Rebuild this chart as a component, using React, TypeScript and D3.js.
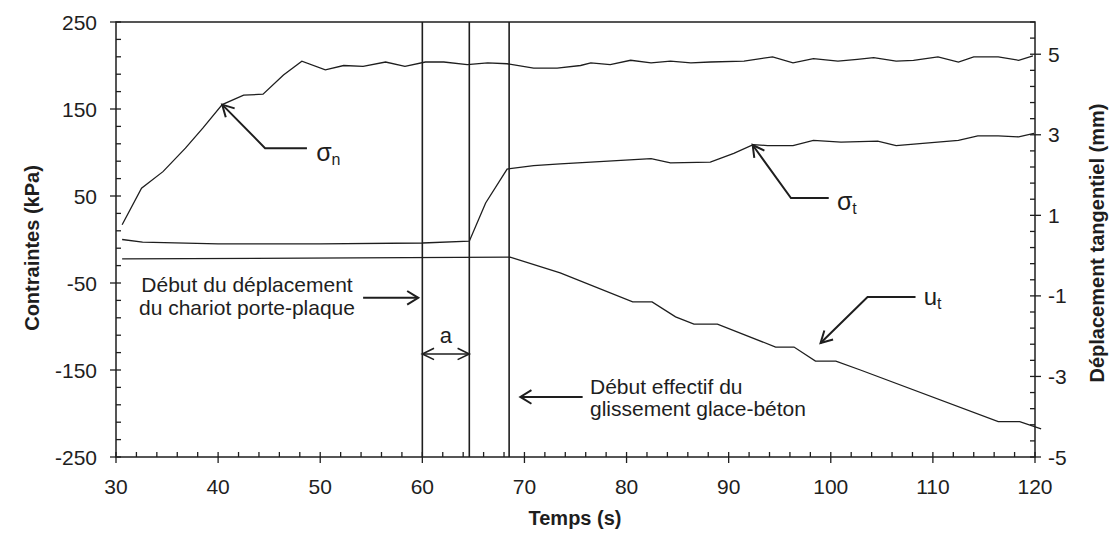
import React from 'react';
import * as d3 from 'd3';

// time (s) / normal stress (kPa)
const SN_TIME = [30.6, 32.5, 34.6, 36.8, 38.5, 40.4, 42.5, 44.4, 46.4, 48.2, 50.5, 52.3, 54.2, 56.4, 58.3, 60.3, 62.1, 64.4, 66.4, 68.3, 70.9, 73.2, 75.5, 76.5, 78.4, 80.4, 82.4, 84.3, 86.3, 88.2, 91.5, 94.3, 96.3, 98.3, 100.7, 102.6, 104.2, 106.4, 108.1, 110.5, 112.5, 114.0, 116.4, 118.4, 119.8];
const SIGMA_N = [17, 59, 78, 105, 128, 155, 166, 167, 189, 205, 195, 200, 199, 204, 199, 204, 204, 201, 203, 202, 197, 197, 200, 203, 201, 206, 203, 205, 203, 204, 205, 210, 203, 208, 205, 207, 209, 205, 206, 210, 204, 210, 210, 206, 211];

// time (s) / tangential stress (kPa)
const ST_TIME = [30.6, 32.6, 40, 50, 60, 64.6, 66.2, 68.3, 70.9, 73.5, 76.5, 82.4, 84.3, 88.2, 90.5, 92.4, 93.8, 96.3, 98.3, 101.0, 104.6, 106.4, 112.5, 114.4, 116.4, 118.4, 119.9];
const SIGMA_T = [0, -3, -5, -5, -4, -2, 42, 81, 85, 87, 89, 93, 88, 89, 99, 109, 108, 108, 114, 112, 113, 108, 114, 119, 119, 118, 122];

// time (s) / tangential displacement (mm)
const UT_TIME = [30.6, 68.6, 73.5, 80.6, 82.5, 84.8, 86.6, 88.9, 94.6, 96.4, 98.5, 100.5, 102.9, 116.4, 118.5, 120.6];
const U_T = [-0.08, -0.04, -0.43, -1.15, -1.15, -1.52, -1.7, -1.7, -2.27, -2.27, -2.62, -2.62, -2.84, -4.12, -4.12, -4.3];

const X_TICKS = [30, 40, 50, 60, 70, 80, 90, 100, 110, 120];
const LEFT_TICKS = [250, 150, 50, -50, -150, -250];
const RIGHT_TICKS = [5, 3, 1, -1, -3, -5];
const MARKERS = [60, 64.6, 68.5];

const W = 1109;
const H = 533;
const M = { left: 116, right: 1035, top: 22, bottom: 457 };
const FONT = "'Liberation Sans', Arial, Helvetica, sans-serif";
const INK = '#1e1e1e';

const x = d3.scaleLinear().domain([30, 120]).range([M.left, M.right]);
const yL = d3.scaleLinear().domain([-250, 250]).range([M.bottom, M.top]);
const yR = d3.scaleLinear().domain([-5, 5.8]).range([M.bottom, M.top]);

function head(tx: number, ty: number, fx: number, fy: number, len = 13, spread = 0.5) {
  const a = Math.atan2(ty - fy, tx - fx);
  const p1 = [tx - len * Math.cos(a - spread), ty - len * Math.sin(a - spread)];
  const p2 = [tx - len * Math.cos(a + spread), ty - len * Math.sin(a + spread)];
  return `M${p1[0]},${p1[1]}L${tx},${ty}L${p2[0]},${p2[1]}`;
}

export default function App() {
  const lineL = d3.line<[number, number]>().x((d) => x(d[0])).y((d) => yL(d[1]));
  const lineR = d3.line<[number, number]>().x((d) => x(d[0])).y((d) => yR(d[1]));

  const sn = lineL(d3.zip(SN_TIME, SIGMA_N) as [number, number][]) ?? '';
  const st = lineL(d3.zip(ST_TIME, SIGMA_T) as [number, number][]) ?? '';
  const ut = lineR(d3.zip(UT_TIME, U_T) as [number, number][]) ?? '';

  const xMinor = d3.range(0, 46).map((i) => 30 + i * 2);
  const lMinor = d3.range(0, 26).map((i) => -250 + i * 20);
  const rMinor = d3.range(0, 28).map((i) => -5 + i * 0.4);

  // leader lines (data coordinates)
  const snLead = [[x(40.4), yL(155)], [x(44.6), yL(105)], [x(48.7), yL(105)]];
  const stLead = [[x(92.35), yL(108.6)], [x(96.1), yL(47.7)], [x(99.8), yL(47.7)]];
  const utLead = [[x(99.0), yR(-2.17)], [x(103.6), yR(-1.03)], [x(108.3), yR(-1.03)]];
  const pl = (p: number[][]) => 'M' + p.map((q) => q.join(',')).join('L');

  const chY = yL(-67);
  const aY = yL(-131.6);
  const efY = yL(-181);

  return (
    <svg width={W} height={H} style={{ position: 'absolute', left: 0, top: 0, background: '#fff' }} fontFamily={FONT}>
      {/* frame */}
      <rect x={M.left} y={M.top} width={M.right - M.left} height={M.bottom - M.top} fill="none" stroke={INK} strokeWidth={1.5} />

      {/* x ticks */}
      {xMinor.map((t) => {
        const major = t % 10 === 0;
        return <line key={'x' + t} x1={x(t)} x2={x(t)} y1={M.bottom - 5} y2={M.bottom + (major ? 6 : 0)} stroke={INK} strokeWidth={1.3} />;
      })}
      {X_TICKS.map((t) => (
        <text key={'xl' + t} x={x(t)} y={486} fontSize={21} textAnchor="middle" dominantBaseline="central" fill={INK}>{t}</text>
      ))}

      {/* left ticks */}
      {lMinor.map((v) => {
        const major = (v + 250) % 100 === 0;
        return <line key={'l' + v} x1={M.left - (major ? 6 : 0)} x2={M.left + 5} y1={yL(v)} y2={yL(v)} stroke={INK} strokeWidth={1.3} />;
      })}
      {LEFT_TICKS.map((v) => (
        <text key={'ll' + v} x={97} y={yL(v)} fontSize={21} textAnchor="end" dominantBaseline="central" fill={INK}>{v}</text>
      ))}

      {/* right ticks */}
      {rMinor.map((v, i) => {
        const major = i % 5 === 0;
        return <line key={'r' + i} x1={M.right - 5} x2={M.right + (major ? 6 : 0)} y1={yR(v)} y2={yR(v)} stroke={INK} strokeWidth={1.3} />;
      })}
      {RIGHT_TICKS.map((v) => (
        <text key={'rl' + v} x={1048} y={yR(v)} fontSize={21} textAnchor="start" dominantBaseline="central" fill={INK}>{v}</text>
      ))}

      {/* axis titles */}
      <text x={575} y={518} fontSize={20} fontWeight="bold" textAnchor="middle" dominantBaseline="central" fill={INK}>Temps (s)</text>
      <text transform={`translate(32,248) rotate(-90)`} fontSize={20} fontWeight="bold" textAnchor="middle" dominantBaseline="central" fill={INK}>Contraintes (kPa)</text>
      <text transform={`translate(1097,243) rotate(-90)`} fontSize={20} fontWeight="bold" textAnchor="middle" dominantBaseline="central" fill={INK}>Déplacement tangentiel (mm)</text>

      {/* event markers */}
      {MARKERS.map((t) => (
        <line key={'m' + t} x1={x(t)} x2={x(t)} y1={M.top} y2={M.bottom} stroke={INK} strokeWidth={1.6} />
      ))}

      {/* curves */}
      <path d={sn} fill="none" stroke={INK} strokeWidth={1.3} />
      <path d={st} fill="none" stroke={INK} strokeWidth={1.3} />
      <path d={ut} fill="none" stroke={INK} strokeWidth={1.3} />

      {/* sigma_n label */}
      <path d={pl(snLead)} fill="none" stroke={INK} strokeWidth={2} />
      <path d={head(snLead[0][0], snLead[0][1], snLead[1][0], snLead[1][1])} fill="none" stroke={INK} strokeWidth={2} />
      <text x={x(49.6)} y={161} fontSize={25} fill={INK}>σ<tspan fontSize={16} dy={4}>n</tspan></text>

      {/* sigma_t label */}
      <path d={pl(stLead)} fill="none" stroke={INK} strokeWidth={2} />
      <path d={head(stLead[0][0], stLead[0][1], stLead[1][0], stLead[1][1])} fill="none" stroke={INK} strokeWidth={2} />
      <text x={x(100.6)} y={210} fontSize={25} fill={INK}>σ<tspan fontSize={16} dy={4}>t</tspan></text>

      {/* u_t label */}
      <path d={pl(utLead)} fill="none" stroke={INK} strokeWidth={2} />
      <path d={head(utLead[0][0], utLead[0][1], utLead[1][0], utLead[1][1])} fill="none" stroke={INK} strokeWidth={2} />
      <text x={x(109.1)} y={305} fontSize={24} fill={INK}>u<tspan fontSize={16} dy={4}>t</tspan></text>

      {/* chariot start */}
      <text x={247} y={292} fontSize={21} textAnchor="middle" fill={INK}>Début du déplacement</text>
      <text x={247} y={315} fontSize={21} textAnchor="middle" fill={INK}>du chariot porte-plaque</text>
      <path d={`M${x(54.2)},${chY}L${x(59.6)},${chY}`} stroke={INK} strokeWidth={2} />
      <path d={head(x(59.6), chY, x(54.2), chY, 13, 0.55)} fill="none" stroke={INK} strokeWidth={2} />

      {/* a */}
      <path d={`M${x(60)},${aY}L${x(64.6)},${aY}`} stroke={INK} strokeWidth={1.6} />
      <path d={head(x(60), aY, x(64.6), aY, 13, 0.45)} fill="none" stroke={INK} strokeWidth={1.6} />
      <path d={head(x(64.6), aY, x(60), aY, 13, 0.45)} fill="none" stroke={INK} strokeWidth={1.6} />
      <text x={x(62.3)} y={343} fontSize={22} textAnchor="middle" fill={INK}>a</text>

      {/* effective sliding start */}
      <path d={`M${x(75.7)},${efY}L${x(69.6)},${efY}`} stroke={INK} strokeWidth={2} />
      <path d={head(x(69.6), efY, x(75.7), efY, 13, 0.55)} fill="none" stroke={INK} strokeWidth={2} />
      <text x={590} y={394} fontSize={21} fill={INK}>Début effectif du</text>
      <text x={590} y={416} fontSize={21} fill={INK}>glissement glace-béton</text>
    </svg>
  );
}
